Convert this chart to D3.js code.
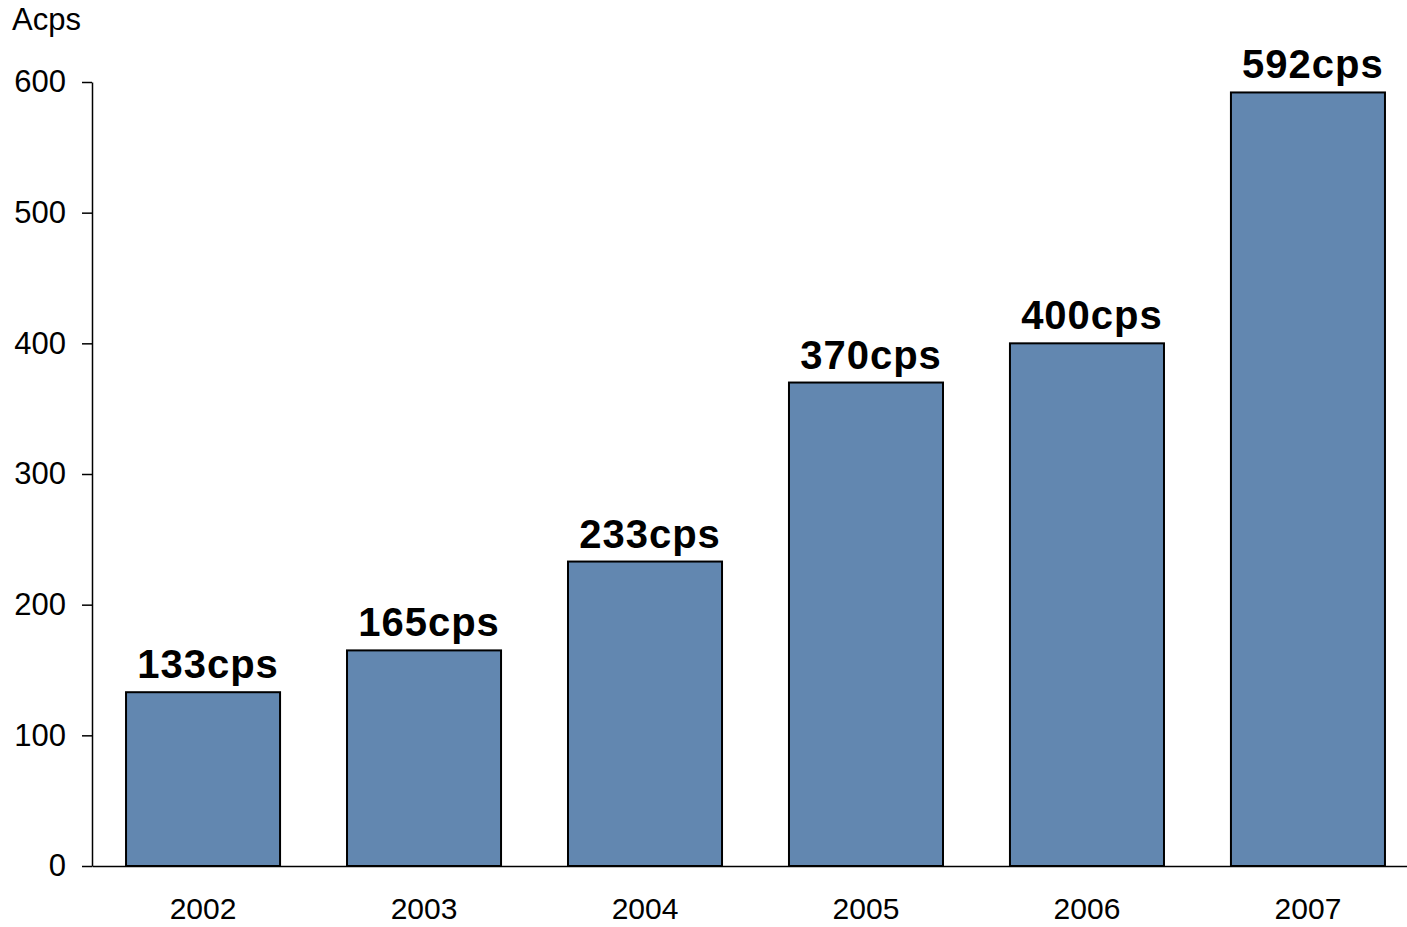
<!DOCTYPE html>
<html>
<head>
<meta charset="utf-8">
<script src="https://cdn.jsdelivr.net/npm/d3@7"></script>
<style>
  body { margin: 0; background: #fff; }
  svg { display: block; }
  text { font-family: "Liberation Sans", Arimo, Arial, sans-serif; fill: #000; }
</style>
</head>
<body>
<div class="chart"></div>
<script>
const years = ['2002', '2003', '2004', '2005', '2006', '2007'];
const values = [133, 165, 233, 370, 400, 592];
const labels = ['133cps', '165cps', '233cps', '370cps', '400cps', '592cps'];
const yTicks = [0, 100, 200, 300, 400, 500, 600];
const unitLabel = 'Acps';

let width = 1407;
let height = 927;

let svg = d3.select('.chart')
  .append('svg')
  .attr('width', width)
  .attr('height', height);

let x = d3.scaleBand()
  .domain(years)
  .range([92, 1419])
  .paddingInner(0.303)
  .paddingOuter(0.154);

let y = d3.scaleLinear()
  .domain([0, 600])
  .range([866, 82]);

let data = years.map((yr, i) => ({year: yr, value: values[i], label: labels[i]}));

// bars
svg.selectAll('rect.bar')
  .data(data)
  .enter()
  .append('rect')
  .attr('class', 'bar')
  .attr('x', d => x(d.year))
  .attr('y', d => y(d.value))
  .attr('width', x.bandwidth())
  .attr('height', d => y(0) - y(d.value))
  .attr('fill', '#6287b0')
  .attr('stroke', '#000')
  .attr('stroke-width', 2);

// value labels
svg.selectAll('text.val')
  .data(data)
  .enter()
  .append('text')
  .attr('class', 'val')
  .attr('x', d => x(d.year) + x.bandwidth() / 2 + 5)
  .attr('y', d => y(d.value) - 14)
  .attr('text-anchor', 'middle')
  .style('font-size', '40px')
  .style('font-weight', 'bold')
  .style('letter-spacing', '1px')
  .text(d => d.label);

// y axis
let yAxis = svg.append('g')
  .attr('transform', 'translate(92,0)')
  .call(d3.axisLeft(y).tickValues(yTicks).tickSize(10).tickSizeOuter(0).tickPadding(16));

yAxis.select('.domain').attr('stroke', '#000').attr('stroke-width', 1.5);
yAxis.selectAll('.tick line').attr('stroke', '#000').attr('stroke-width', 1.5);
yAxis.selectAll('.tick text')
  .style('font-size', '31px')
  .attr('font-family', null);

// x axis
let xAxis = svg.append('g')
  .attr('transform', 'translate(0,866)')
  .call(d3.axisBottom(x).tickSize(0).tickPadding(32));

xAxis.select('.domain').attr('stroke', '#000').attr('stroke-width', 1.5);
xAxis.selectAll('.tick text')
  .style('font-size', '30px')
  .attr('dy', '0.71em')
  .attr('font-family', null);

// unit label
svg.append('text')
  .attr('x', 12)
  .attr('y', 30)
  .style('font-size', '31px')
  .text(unitLabel);
</script>
</body>
</html>
